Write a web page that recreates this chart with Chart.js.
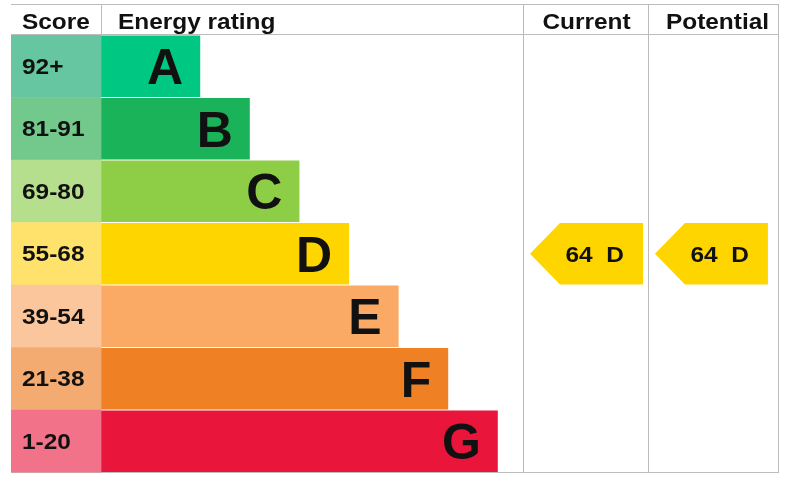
<!DOCTYPE html>
<html>
<head>
<meta charset="utf-8">
<script src="https://cdn.jsdelivr.net/npm/chart.js@4.4.1/dist/chart.umd.min.js"></script>
<style>
  html, body { margin: 0; padding: 0; background: #ffffff; }
  #wrap { position: relative; width: 785px; height: 481px; }
</style>
</head>
<body>
<div id="wrap"><canvas id="c"></canvas></div>
<script>
// ---- data ----
const bands = ['A', 'B', 'C', 'D', 'E', 'F', 'G'];
const scoreRanges = ['92+', '81-91', '69-80', '55-68', '39-54', '21-38', '1-20'];
const bandMins = [92, 81, 69, 55, 39, 21, 1];
const barLengths = [2, 3, 4, 5, 6, 7, 8];
const currentScore = 64;
const potentialScore = 64;
const headers = ['Score', 'Energy rating', 'Current', 'Potential'];

// ---- style ----
const scoreColors = ['#66c6a1', '#73c88b', '#b5df8d', '#ffe26c', '#fcc69d', '#f4ab71', '#f27389'];
const ratingColors = ['#00c781', '#1bb35a', '#8dce46', '#ffd500', '#fbaa65', '#ef8023', '#e9153b'];
const X_MIN = -1.815, X_MAX = 13.67;
const COL_CURRENT = 8.508, COL_POTENTIAL = 11.028;
const LINE = '#bcbcbc';
const SMALL_FONT = 'bold 22px "Liberation Sans", Arial, sans-serif';
const BIG_FONT = 'bold 50px "Liberation Sans", Arial, sans-serif';
const SX = 1.11;

function sText(ctx, text, x, y, align, sx) {
  ctx.save();
  ctx.translate(x, y);
  ctx.scale(sx, 1);
  ctx.textAlign = align;
  ctx.textBaseline = 'alphabetic';
  ctx.fillText(text, 0, 0);
  ctx.restore();
}

function bandIndex(score) {
  for (let i = 0; i < bandMins.length; i++) if (score >= bandMins[i]) return i;
  return bandMins.length - 1;
}

const tablePlugin = {
  id: 'epcTable',
  beforeDatasetsDraw(chart) {
    const ctx = chart.ctx, xs = chart.scales.x, ca = chart.chartArea;
    const left = ca.left, right = ca.right, top = 4, bottom = Math.round(ca.bottom) - 0.5;
    const xCur = Math.round(xs.getPixelForValue(COL_CURRENT)) + 0.5;
    const xPot = Math.round(xs.getPixelForValue(COL_POTENTIAL)) + 0.5;
    const xBars = Math.round(xs.getPixelForValue(0)) + 0.5;
    ctx.save();
    ctx.strokeStyle = LINE;
    ctx.lineWidth = 1;
    ctx.beginPath();
    ctx.moveTo(left, top + 0.5); ctx.lineTo(right, top + 0.5);
    ctx.moveTo(left, ca.top - 0.5); ctx.lineTo(right, ca.top - 0.5);
    ctx.moveTo(left, bottom); ctx.lineTo(right, bottom);
    ctx.moveTo(xBars, top); ctx.lineTo(xBars, ca.top);
    [xCur, xPot, right - 0.5].forEach(x => { ctx.moveTo(x, top); ctx.lineTo(x, bottom); });
    ctx.stroke();
    ctx.restore();
  },
  afterDatasetsDraw(chart) {
    const ctx = chart.ctx, xs = chart.scales.x, ys = chart.scales.y;
    const x0 = xs.getPixelForValue(X_MIN);
    ctx.save();
    ctx.fillStyle = '#111111';
    // headers
    ctx.font = SMALL_FONT;
    const hy = 28.5;
    sText(ctx, headers[0], x0 + 11, hy, 'left', SX);
    sText(ctx, headers[1], xs.getPixelForValue(0) + 17, hy, 'left', SX);
    const xCur = xs.getPixelForValue(COL_CURRENT), xPot = xs.getPixelForValue(COL_POTENTIAL);
    sText(ctx, headers[2], (xCur + xPot) / 2 + 1, hy, 'center', SX);
    sText(ctx, headers[3], (xPot + chart.chartArea.right) / 2 + 4, hy, 'center', SX);
    // score ranges
    bands.forEach((b, i) => {
      const y = ys.getPixelForValue(i);
      ctx.font = SMALL_FONT;
      sText(ctx, scoreRanges[i], x0 + 11, y + 7.5, 'left', SX);
      ctx.font = BIG_FONT;
      ctx.textAlign = 'right';
      ctx.textBaseline = 'alphabetic';
      ctx.fillText(b, xs.getPixelForValue(barLengths[i]) - 17, y + 18);
    });
    // arrows
    const meta = chart.getDatasetMeta(1);
    [[currentScore, xCur], [potentialScore, xPot]].forEach(([score, colX]) => {
      const i = bandIndex(score);
      const y = ys.getPixelForValue(i);
      const h = meta.data[i].height / 2;
      const tip = colX + 7;
      ctx.fillStyle = ratingColors[i];
      ctx.beginPath();
      ctx.moveTo(tip, y);
      ctx.lineTo(tip + 30, y - h);
      ctx.lineTo(tip + 113, y - h);
      ctx.lineTo(tip + 113, y + h);
      ctx.lineTo(tip + 30, y + h);
      ctx.closePath();
      ctx.fill();
      ctx.fillStyle = '#111111';
      ctx.font = SMALL_FONT;
      sText(ctx, score + '  ' + bands[i], tip + 35.5, y + 8, 'left', SX);
    });
    ctx.restore();
  }
};

new Chart(document.getElementById('c'), {
  type: 'bar',
  data: {
    labels: bands,
    datasets: [
      {
        label: 'Score',
        data: bands.map(() => [X_MIN, 0]),
        backgroundColor: scoreColors,
        grouped: false,
        barPercentage: 1,
        categoryPercentage: 1,
        borderWidth: 0
      },
      {
        label: 'Energy rating',
        data: barLengths.map(v => [0, v]),
        backgroundColor: ratingColors,
        grouped: false,
        barPercentage: 0.984,
        categoryPercentage: 1,
        borderWidth: 0
      }
    ]
  },
  options: {
    indexAxis: 'y',
    responsive: true,
    maintainAspectRatio: false,
    animation: false,
    layout: { padding: { left: 11, right: 6, top: 35, bottom: 8.5 } },
    scales: {
      x: { type: 'linear', min: X_MIN, max: X_MAX, display: false },
      y: { type: 'category', display: false, offset: true }
    },
    plugins: { legend: { display: false }, tooltip: { enabled: false } }
  },
  plugins: [tablePlugin]
});
</script>
</body>
</html>
